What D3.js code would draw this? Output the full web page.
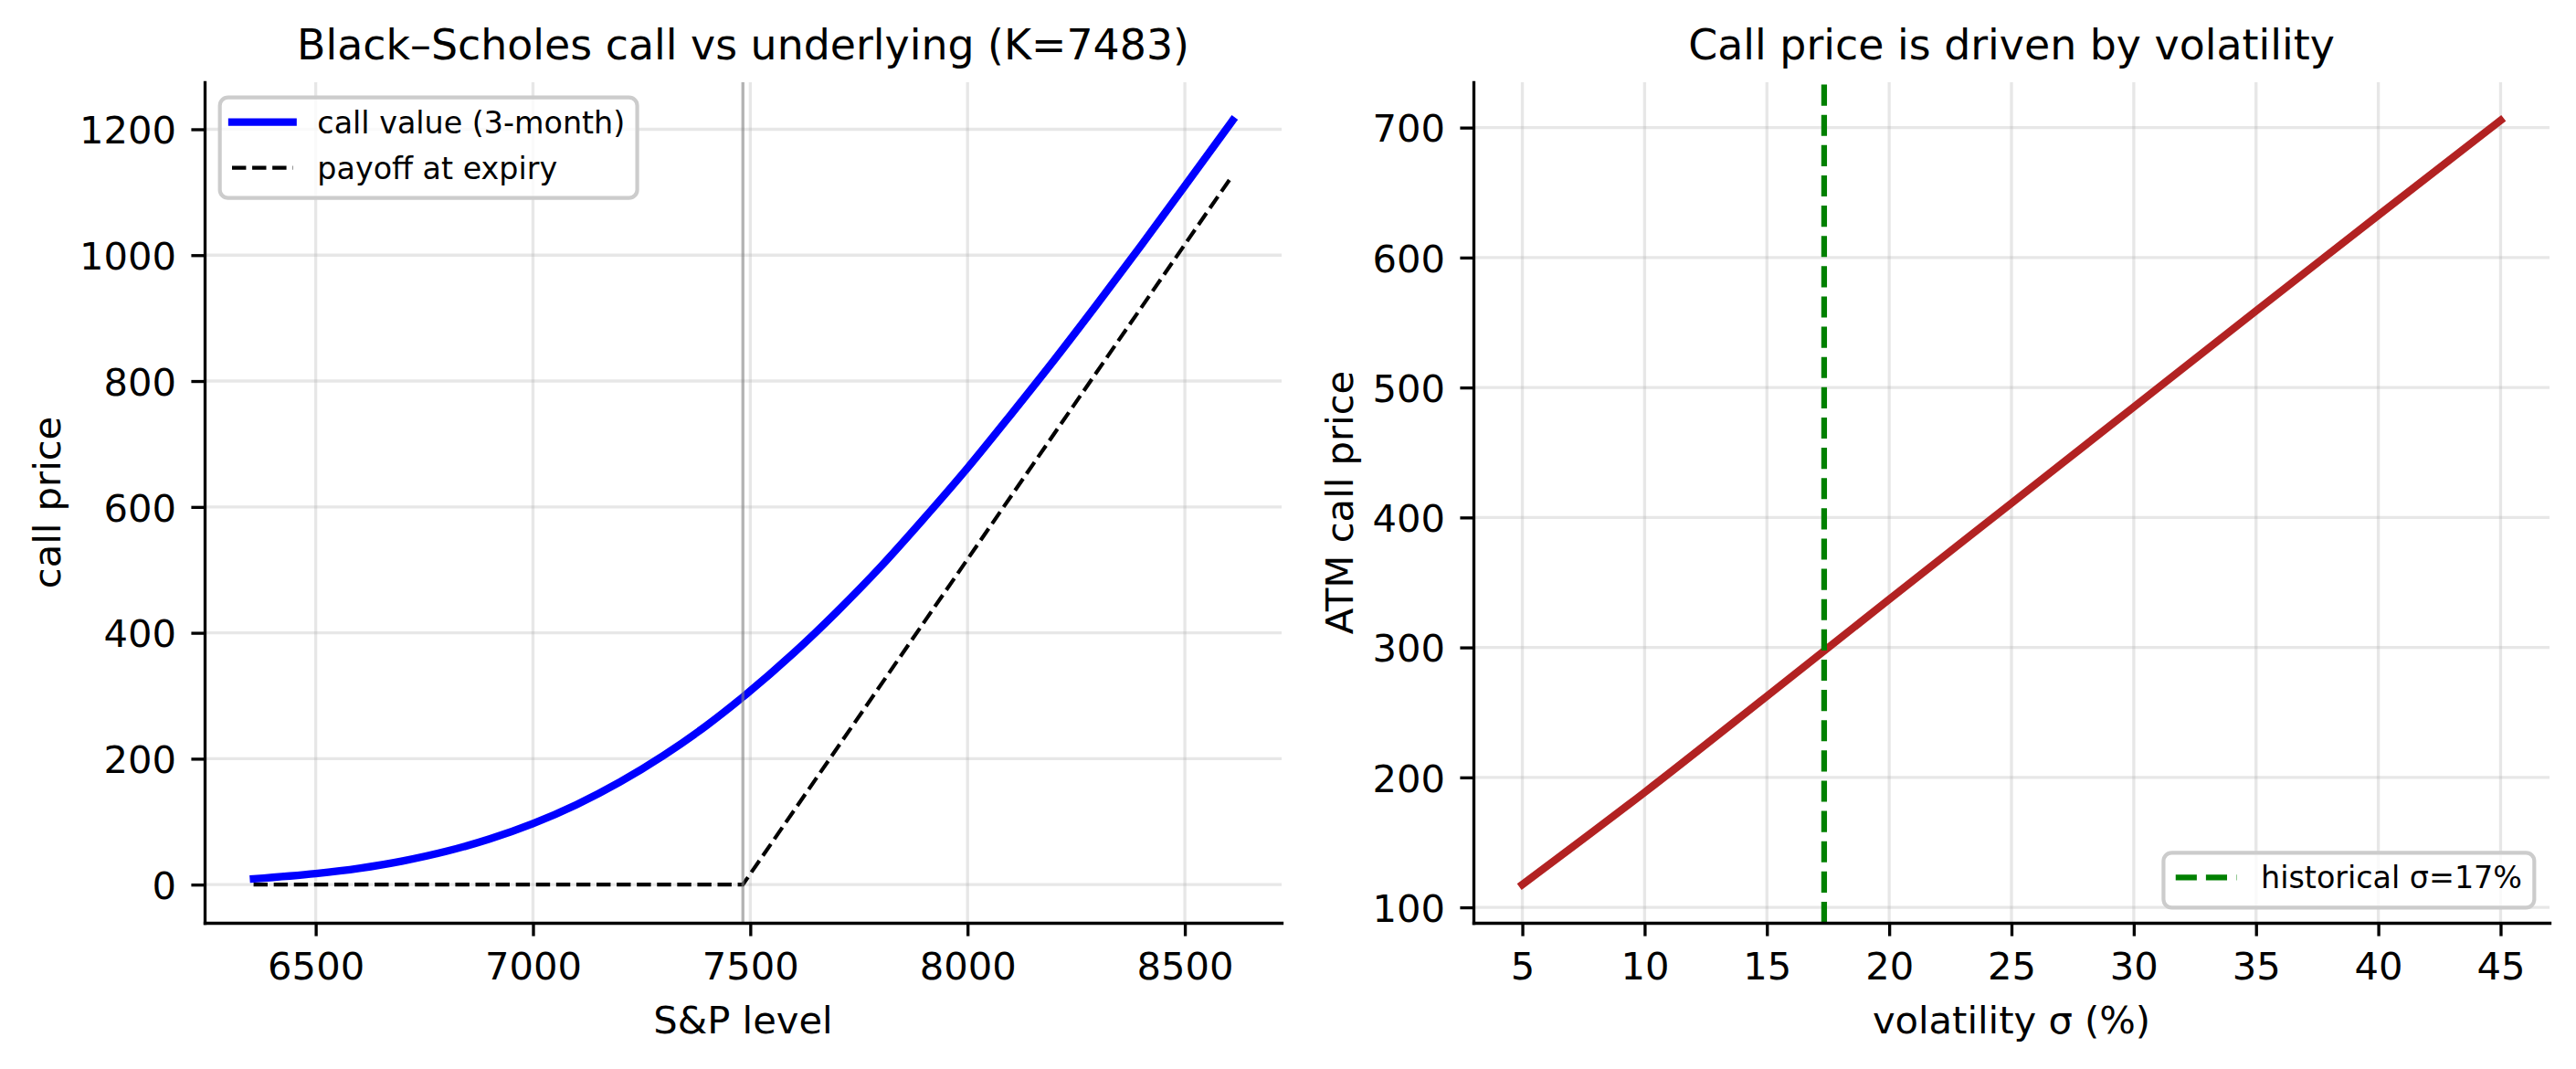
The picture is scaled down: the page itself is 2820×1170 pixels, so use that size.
<!DOCTYPE html>
<html>
<head>
<meta charset="utf-8">
<script src="https://cdn.jsdelivr.net/npm/d3@7"></script>
<style>
  html, body { margin: 0; padding: 0; background: #fff; }
  svg { display: block; font-family: "DejaVu Sans", sans-serif; }
</style>
</head>
<body>
<svg id="chart" width="2820" height="1170"></svg>
<script>
// left panel: 3-month call value against the index level, strike K=7483
const strike = 7483;
const spotLevels = [6357, 6500, 6600, 6700, 6800, 6900, 7000, 7100, 7200, 7300, 7400, 7483,
                    7600, 7700, 7800, 7900, 8000, 8100, 8200, 8300, 8400, 8500, 8610];
const callValues = [9.2, 17.5, 25.9, 37.5, 52.8, 72.5, 97, 127, 163, 205, 253, 298,
                    368, 434, 505, 582, 662, 747, 834, 924, 1016, 1110, 1214];
const payoffLevels = [6357, 7483, 8610];
const payoffValues = [0, 0, 1127];

// right panel: ATM call price against volatility
const volPct = [5, 10, 15, 20, 25, 30, 35, 40, 45];
const atmCallPrices = [117.5, 188.5, 262.5, 337, 411, 485, 559, 632.5, 705.5];
const historicalVol = 17.34;

const spotTicks = [6500, 7000, 7500, 8000, 8500];
const callTicks = [0, 200, 400, 600, 800, 1000, 1200];
const volTicks = [5, 10, 15, 20, 25, 30, 35, 40, 45];
const atmTicks = [100, 200, 300, 400, 500, 600, 700];

const PT = 300 / 72;          // figure was drawn at 300 dpi
const FS = 10 * PT;           // tick / label font
const LEG_FS = 8 * PT;
const svg = d3.select("#chart");

function padded(values) {
    const [lo, hi] = d3.extent(values);
    const m = (hi - lo) * 0.05;
    return [lo - m, hi + m];
}

function makeAxes(box, xDomain, yDomain, xTicks, yTicks, text) {
    const g = svg.append("g");
    const x = d3.scaleLinear().domain(xDomain).range([box.left, box.right]);
    const y = d3.scaleLinear().domain(yDomain).range([box.bottom, box.top]);

    // grid first so data sits on top
    const grid = g.append("g")
        .attr("stroke", "#b0b0b0")
        .attr("stroke-opacity", 0.3)
        .attr("stroke-width", 0.8 * PT);
    grid.selectAll("line.gx").data(xTicks).join("line")
        .attr("class", "gx")
        .attr("x1", d => x(d)).attr("x2", d => x(d))
        .attr("y1", box.top).attr("y2", box.bottom);
    grid.selectAll("line.gy").data(yTicks).join("line")
        .attr("class", "gy")
        .attr("x1", box.left).attr("x2", box.right)
        .attr("y1", d => y(d)).attr("y2", d => y(d));

    const plot = g.append("g");

    const xAxis = g.append("g")
        .attr("transform", `translate(0,${box.bottom})`)
        .call(d3.axisBottom(x).tickValues(xTicks).tickSize(3.5 * PT)
            .tickPadding(3.5 * PT).tickSizeOuter(0).tickFormat(d3.format("d")));
    const yAxis = g.append("g")
        .attr("transform", `translate(${box.left},0)`)
        .call(d3.axisLeft(y).tickValues(yTicks).tickSize(3.5 * PT)
            .tickPadding(16.5).tickSizeOuter(0).tickFormat(d3.format("d")));

    for (const ax of [xAxis, yAxis]) {
        ax.attr("font-family", null).attr("font-size", null);
        ax.select(".domain").attr("stroke", "#000").attr("stroke-width", 0.8 * PT)
            .attr("stroke-linecap", "square");
        ax.selectAll(".tick line").attr("stroke", "#000").attr("stroke-width", 0.8 * PT);
        ax.selectAll(".tick text").attr("fill", "#000").attr("font-size", FS);
    }
    xAxis.selectAll(".tick text").attr("dy", "0.78em");
    yAxis.selectAll(".tick text").attr("dy", "0.365em");

    g.append("text")
        .attr("x", (box.left + box.right) / 2).attr("y", box.top - 6 * PT)
        .attr("text-anchor", "middle").attr("font-size", 11 * PT)
        .text(text.title);
    g.append("text")
        .attr("x", (box.left + box.right) / 2).attr("y", 1131)
        .attr("text-anchor", "middle").attr("font-size", FS)
        .text(text.xLabel);
    g.append("text")
        .attr("transform", `translate(${text.yLabelX},${(box.top + box.bottom) / 2}) rotate(-90)`)
        .attr("text-anchor", "middle").attr("font-size", FS)
        .text(text.yLabel);

    return { g, plot, x, y };
}

function drawLegend(g, entries, left, top, right) {
    const pad = 0.4 * LEG_FS;
    const handleLen = 2 * LEG_FS;
    const rowH = 50;
    const leg = g.append("g");
    const frame = leg.append("rect")
        .attr("rx", 9).attr("ry", 9)
        .attr("fill", "#fff").attr("fill-opacity", 0.8)
        .attr("stroke", "#cccccc").attr("stroke-width", 1 * PT);
    let maxW = 0;
    const rows = leg.append("g");
    entries.forEach((e, i) => {
        const cy = i * rowH;
        rows.append("line")
            .attr("x1", pad).attr("x2", pad + handleLen)
            .attr("y1", cy).attr("y2", cy)
            .attr("stroke", e.color).attr("stroke-width", e.width)
            .attr("stroke-dasharray", e.dash || null)
            .attr("stroke-linecap", e.dash ? "butt" : "square");
        const t = rows.append("text")
            .attr("x", pad + handleLen + 0.8 * LEG_FS).attr("y", cy + 12)
            .attr("font-size", LEG_FS).text(e.label);
        maxW = Math.max(maxW, t.node().getComputedTextLength());
    });
    const w = pad + handleLen + 0.8 * LEG_FS + maxW + pad;
    const h = 27 + (entries.length - 1) * rowH + 27 + 6;
    const x0 = right != null ? right - w : left;
    frame.attr("x", x0).attr("y", top).attr("width", w).attr("height", h);
    rows.attr("transform", `translate(${x0},${top + 27})`);
    return h;
}

// ---------- left panel ----------
const leftBox = { left: 224, right: 1403, top: 90, bottom: 1010 };
const left = makeAxes(leftBox,
    padded(spotLevels), padded(callValues.concat(payoffValues)),
    spotTicks, callTicks,
    { title: "Black\u2013Scholes call vs underlying (K=7483)", xLabel: "S&P level",
      yLabel: "call price", yLabelX: 66 });

const callLine = d3.line()
    .x((d, i) => left.x(spotLevels[i]))
    .y(d => left.y(d))
    .curve(d3.curveMonotoneX);
left.plot.append("path")
    .datum(callValues)
    .attr("d", callLine)
    .attr("fill", "none").attr("stroke", "#0000ff")
    .attr("stroke-width", 2 * PT).attr("stroke-linecap", "square");

const payoffLine = d3.line()
    .x((d, i) => left.x(payoffLevels[i]))
    .y(d => left.y(d));
left.plot.append("path")
    .datum(payoffValues)
    .attr("d", payoffLine)
    .attr("fill", "none").attr("stroke", "#000")
    .attr("stroke-width", 1 * PT)
    .attr("stroke-dasharray", `${3.7 * PT},${1.6 * PT}`);

left.plot.append("line")
    .attr("x1", left.x(strike)).attr("x2", left.x(strike))
    .attr("y1", leftBox.bottom).attr("y2", leftBox.top)
    .attr("stroke", "#808080").attr("stroke-opacity", 0.6)
    .attr("stroke-width", 0.8 * PT);

drawLegend(left.g, [
    { label: "call value (3-month)", color: "#0000ff", width: 2 * PT },
    { label: "payoff at expiry", color: "#000", width: 1 * PT, dash: `${3.7 * PT},${1.6 * PT}` }
], leftBox.left + 0.5 * LEG_FS, leftBox.top + 0.5 * LEG_FS, null);

// ---------- right panel ----------
const rightBox = { left: 1613, right: 2791, top: 90, bottom: 1010 };
const right = makeAxes(rightBox,
    padded(volPct), padded(atmCallPrices),
    volTicks, atmTicks,
    { title: "Call price is driven by volatility", xLabel: "volatility \u03c3 (%)",
      yLabel: "ATM call price", yLabelX: 1481 });

const volLine = d3.line()
    .x((d, i) => right.x(volPct[i]))
    .y(d => right.y(d))
    .curve(d3.curveMonotoneX);
right.plot.append("path")
    .datum(atmCallPrices)
    .attr("d", volLine)
    .attr("fill", "none").attr("stroke", "#b22222")
    .attr("stroke-width", 2 * PT).attr("stroke-linecap", "square");

right.plot.append("line")
    .attr("x1", right.x(historicalVol)).attr("x2", right.x(historicalVol))
    .attr("y1", rightBox.bottom).attr("y2", rightBox.top)
    .attr("stroke", "#008000").attr("stroke-width", 1.5 * PT)
    .attr("stroke-dasharray", `${3.7 * 1.5 * PT},${1.6 * 1.5 * PT}`);

// lower-right legend: bottom edge sits 0.5em above the axis
const legH = 27 + 27 + 6;
drawLegend(right.g, [
    { label: "historical \u03c3=17%", color: "#008000", width: 1.5 * PT,
      dash: `${3.7 * 1.5 * PT},${1.6 * 1.5 * PT}` }
], null, rightBox.bottom - 0.5 * LEG_FS - legH, rightBox.right - 0.5 * LEG_FS);
</script>
</body>
</html>
